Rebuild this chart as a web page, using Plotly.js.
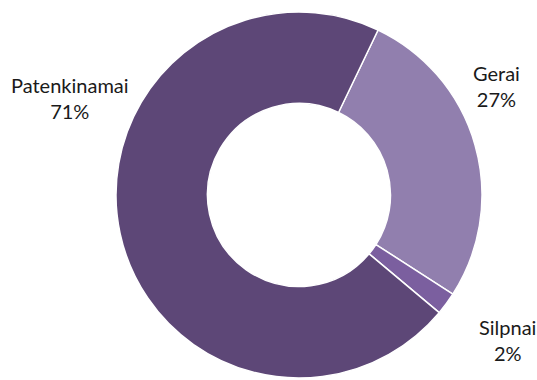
<!DOCTYPE html>
<html>
<head>
<meta charset="utf-8">
<script src="https://cdn.plot.ly/plotly-3.0.1.min.js"></script>
<style>
html,body{margin:0;padding:0;background:#fff;}
#chart{width:537px;height:380px;}
</style>
</head>
<body>
<div id="chart"></div>
<script>
const categories = ["Gerai", "Silpnai", "Patenkinamai"];
const values = [27, 2, 71];
const sliceColors = ["#917FAE", "#7B5F9F", "#5D4777"];

const total = values.reduce((a, b) => a + b, 0);
const pct = values.map(v => Math.round(v / total * 100) + "%");

const labelPos = [
  {x: 496, y: 86},
  {x: 507, y: 340},
  {x: 70, y: 98}
];

const annotations = categories.map((c, i) => ({
  text: c + "<br>" + pct[i],
  x: labelPos[i].x / 537,
  y: 1 - labelPos[i].y / 380,
  xref: "paper", yref: "paper",
  xanchor: "center", yanchor: "middle",
  showarrow: false,
  align: "center",
  font: {family: "Lato, 'Open Sans', sans-serif", size: 20, color: "#1a1a1a"}
}));

const trace = {
  type: "pie",
  labels: categories,
  values: values,
  hole: 0.5,
  sort: false,
  direction: "clockwise",
  rotation: 25.6,
  textinfo: "none",
  hoverinfo: "label+percent",
  marker: {colors: sliceColors, line: {color: "#ffffff", width: 1.5}},
  domain: {x: [116 / 537, 482 / 537], y: [(380 - 378) / 380, (380 - 12) / 380]},
  showlegend: false
};

const layout = {
  width: 537, height: 380,
  margin: {l: 0, r: 0, t: 0, b: 0},
  paper_bgcolor: "#ffffff",
  showlegend: false,
  annotations: annotations
};

Plotly.newPlot("chart", [trace], layout, {displayModeBar: false, staticPlot: true});
</script>
</body>
</html>
